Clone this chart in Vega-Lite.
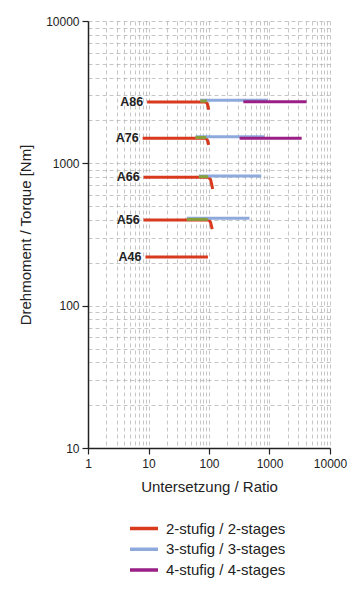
{
  "$schema": "https://vega.github.io/schema/vega-lite/v6.json",
  "width": 242,
  "height": 427,
  "autosize": "none",
  "padding": {"left": 88, "top": 21, "right": 30, "bottom": 152},
  "background": "white",
  "config": {
    "font": "Liberation Sans",
    "view": {"stroke": null}
  },
  "datasets": {
    "lines": [
      {"gear": "A86", "stufen": "2-stufig / 2-stages", "o": 1, "x": 9.5, "y": 2700},
      {"gear": "A86", "stufen": "2-stufig / 2-stages", "o": 2, "x": 88, "y": 2700},
      {"gear": "A86", "stufen": "2-stufig / 2-stages", "o": 3, "x": 94, "y": 2620},
      {"gear": "A86", "stufen": "2-stufig / 2-stages", "o": 4, "x": 99, "y": 2380},
      {"gear": "A86", "stufen": "3-stufig / 3-stages", "o": 1, "x": 72, "y": 2780},
      {"gear": "A86", "stufen": "3-stufig / 3-stages", "o": 2, "x": 940, "y": 2780},
      {"gear": "A86", "stufen": "4-stufig / 4-stages", "o": 1, "x": 370, "y": 2710},
      {"gear": "A86", "stufen": "4-stufig / 4-stages", "o": 2, "x": 4100, "y": 2710},
      {"gear": "A76", "stufen": "2-stufig / 2-stages", "o": 1, "x": 8, "y": 1500},
      {"gear": "A76", "stufen": "2-stufig / 2-stages", "o": 2, "x": 88, "y": 1500},
      {"gear": "A76", "stufen": "2-stufig / 2-stages", "o": 3, "x": 94, "y": 1460},
      {"gear": "A76", "stufen": "2-stufig / 2-stages", "o": 4, "x": 99, "y": 1350},
      {"gear": "A76", "stufen": "3-stufig / 3-stages", "o": 1, "x": 60, "y": 1540},
      {"gear": "A76", "stufen": "3-stufig / 3-stages", "o": 2, "x": 830, "y": 1540},
      {"gear": "A76", "stufen": "4-stufig / 4-stages", "o": 1, "x": 320, "y": 1500},
      {"gear": "A76", "stufen": "4-stufig / 4-stages", "o": 2, "x": 3400, "y": 1500},
      {"gear": "A66", "stufen": "2-stufig / 2-stages", "o": 1, "x": 8.3, "y": 800},
      {"gear": "A66", "stufen": "2-stufig / 2-stages", "o": 2, "x": 97, "y": 800},
      {"gear": "A66", "stufen": "2-stufig / 2-stages", "o": 3, "x": 106, "y": 770},
      {"gear": "A66", "stufen": "2-stufig / 2-stages", "o": 4, "x": 110, "y": 720},
      {"gear": "A66", "stufen": "2-stufig / 2-stages", "o": 5, "x": 115, "y": 660},
      {"gear": "A66", "stufen": "3-stufig / 3-stages", "o": 1, "x": 68, "y": 815},
      {"gear": "A66", "stufen": "3-stufig / 3-stages", "o": 2, "x": 730, "y": 815},
      {"gear": "A56", "stufen": "2-stufig / 2-stages", "o": 1, "x": 8.3, "y": 400},
      {"gear": "A56", "stufen": "2-stufig / 2-stages", "o": 2, "x": 100, "y": 400},
      {"gear": "A56", "stufen": "2-stufig / 2-stages", "o": 3, "x": 106, "y": 385},
      {"gear": "A56", "stufen": "2-stufig / 2-stages", "o": 4, "x": 113, "y": 345},
      {"gear": "A56", "stufen": "3-stufig / 3-stages", "o": 1, "x": 43, "y": 411},
      {"gear": "A56", "stufen": "3-stufig / 3-stages", "o": 2, "x": 467, "y": 411},
      {"gear": "A46", "stufen": "2-stufig / 2-stages", "o": 1, "x": 8.9, "y": 220},
      {"gear": "A46", "stufen": "2-stufig / 2-stages", "o": 2, "x": 96, "y": 220}
    ],
    "overlap": [
      {"gear": "A86", "o": 1, "x": 72, "y": 2740},
      {"gear": "A86", "o": 2, "x": 92, "y": 2740},
      {"gear": "A76", "o": 1, "x": 60, "y": 1520},
      {"gear": "A76", "o": 2, "x": 90, "y": 1520},
      {"gear": "A66", "o": 1, "x": 68, "y": 806},
      {"gear": "A66", "o": 2, "x": 96, "y": 806},
      {"gear": "A56", "o": 1, "x": 43, "y": 404},
      {"gear": "A56", "o": 2, "x": 95, "y": 404}
    ],
    "labels": [
      {"gear": "A86", "x": 9.5, "y": 2700},
      {"gear": "A76", "x": 8, "y": 1500},
      {"gear": "A66", "x": 8.3, "y": 800},
      {"gear": "A56", "x": 8.3, "y": 400},
      {"gear": "A46", "x": 8.9, "y": 220}
    ]
  },
  "layer": [
    {
      "data": {"name": "lines"},
      "mark": {"type": "line", "strokeWidth": 3, "strokeCap": "butt"},
      "encoding": {
        "x": {
          "field": "x", "type": "quantitative",
          "scale": {"type": "log", "domain": [1, 10000], "nice": false},
          "axis": {
            "title": "Untersetzung / Ratio",
            "titleFontSize": 15, "titleFontWeight": "normal", "titleColor": "#222",
            "titlePadding": 10,
            "values": [1,2,3,4,5,6,7,8,9,10,20,30,40,50,60,70,80,90,100,200,300,400,500,600,700,800,900,1000,2000,3000,4000,5000,6000,7000,8000,9000,10000],
            "format": "d",
            "labelExpr": "indexof([1,10,100,1000,10000], datum.value) >= 0 ? datum.label : ''",
            "labelOverlap": false, "labelFlush": false,
            "labelFontSize": 12, "labelColor": "#222", "labelPadding": 4,
            "grid": true, "gridDash": [4, 3], "gridColor": "#b8b8b8", "gridWidth": 0.8,
            "tickOpacity": {"condition": {"test": "indexof([1,10,100,1000,10000], datum.value) >= 0", "value": 1}, "value": 0},
            "tickColor": "#222", "tickSize": 6, "tickWidth": 1.2,
            "domainColor": "#222", "domainWidth": 1.5
          }
        },
        "y": {
          "field": "y", "type": "quantitative",
          "scale": {"type": "log", "domain": [10, 10000], "nice": false},
          "axis": {
            "title": "Drehmoment / Torque [Nm]",
            "titleFontSize": 15, "titleFontWeight": "normal", "titleColor": "#222",
            "titlePadding": 12,
            "values": [10,20,30,40,50,60,70,80,90,100,200,300,400,500,600,700,800,900,1000,2000,3000,4000,5000,6000,7000,8000,9000,10000],
            "format": "d",
            "labelExpr": "indexof([10,100,1000,10000], datum.value) >= 0 ? datum.label : ''",
            "labelOverlap": false, "labelFlush": false,
            "labelFontSize": 12, "labelColor": "#222", "labelPadding": 3,
            "grid": true, "gridDash": [4, 3], "gridColor": "#b8b8b8", "gridWidth": 0.8,
            "tickOpacity": {"condition": {"test": "indexof([10,100,1000,10000], datum.value) >= 0", "value": 1}, "value": 0},
            "tickColor": "#222", "tickSize": 6, "tickWidth": 1.2,
            "domainColor": "#222", "domainWidth": 1.5
          }
        },
        "color": {
          "field": "stufen", "type": "nominal",
          "scale": {
            "domain": ["2-stufig / 2-stages", "3-stufig / 3-stages", "4-stufig / 4-stages"],
            "range": ["#d93a1e", "#8eaadc", "#9a1f86"]
          },
          "legend": {
            "title": null,
            "orient": "none",
            "legendX": 40,
            "legendY": 499,
            "direction": "vertical",
            "symbolType": "stroke",
            "symbolSize": 784,
            "symbolStrokeWidth": 3.5,
            "clipHeight": 17,
            "labelFontSize": 15,
            "labelColor": "#222",
            "labelOffset": 6,
            "rowPadding": 3.7
          }
        },
        "detail": {"field": "gear"},
        "order": {"field": "o", "type": "quantitative"}
      }
    },
    {
      "data": {"name": "overlap"},
      "mark": {"type": "line", "strokeWidth": 3, "strokeCap": "butt", "color": "#86a03c"},
      "encoding": {
        "x": {"field": "x", "type": "quantitative"},
        "y": {"field": "y", "type": "quantitative"},
        "detail": {"field": "gear"},
        "order": {"field": "o", "type": "quantitative"}
      }
    },
    {
      "data": {"name": "labels"},
      "mark": {"type": "text", "align": "right", "baseline": "middle", "dx": -4, "fontWeight": "bold", "fontSize": 12.5, "color": "#222"},
      "encoding": {
        "x": {"field": "x", "type": "quantitative"},
        "y": {"field": "y", "type": "quantitative"},
        "text": {"field": "gear"}
      }
    }
  ]
}
